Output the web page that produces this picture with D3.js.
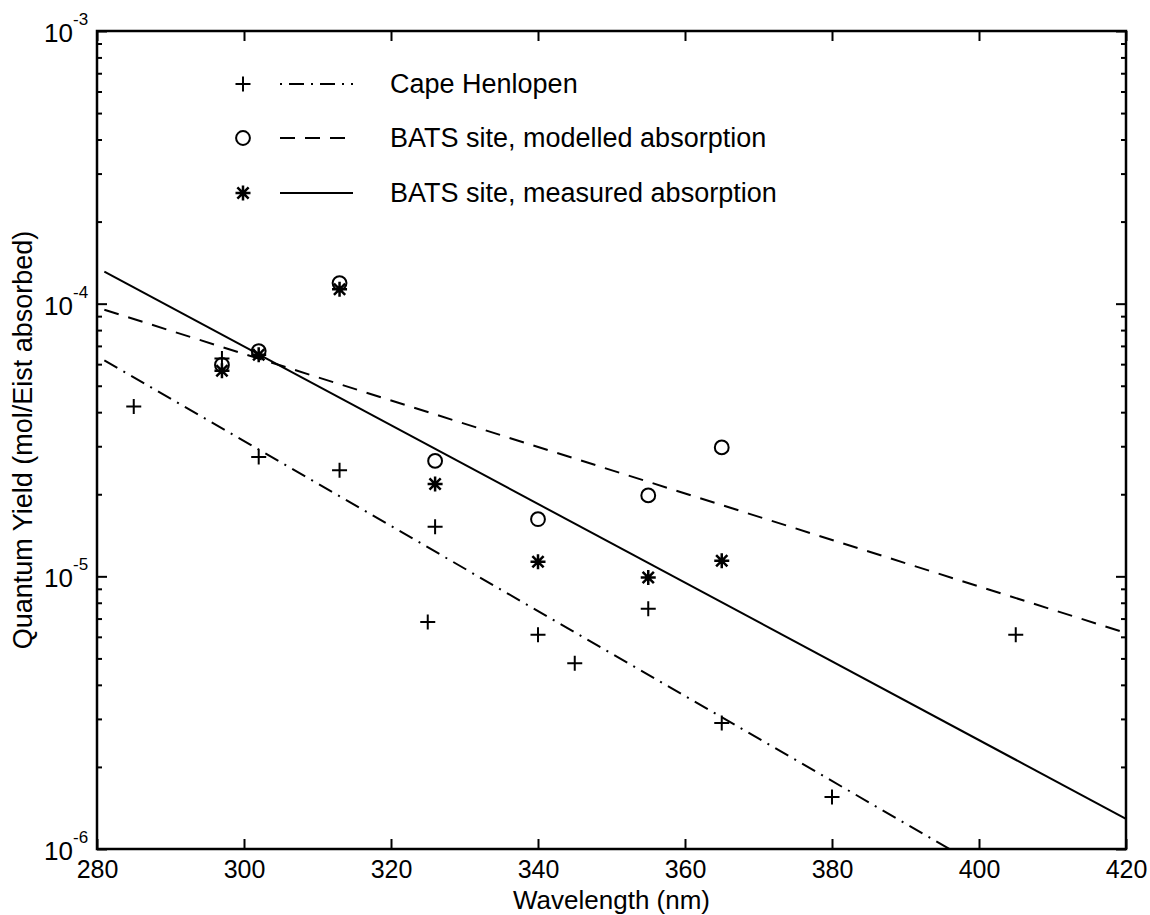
<!DOCTYPE html>
<html>
<head>
<meta charset="utf-8">
<script src="https://cdn.jsdelivr.net/npm/d3@7"></script>
<style>
  body { margin: 0; background: #fff; }
  svg text { font-family: "Liberation Sans", Arial, Helvetica, sans-serif; fill: #000; }
</style>
</head>
<body>
<div id="chart"></div>
<script>
const W = 1150, H = 915;
const margin = {top: 31, right: 24, bottom: 66, left: 97};

// axis ticks
const xTicks = [280, 300, 320, 340, 360, 380, 400, 420];
const yExponents = [-6, -5, -4, -3];

// Cape Henlopen (+)
const capeX = [285, 297, 302, 313, 325, 326, 340, 345, 355, 365, 380, 405];
const capeY = [4.2e-5, 6.3e-5, 2.74e-5, 2.45e-5, 6.8e-6, 1.52e-5, 6.1e-6, 4.8e-6, 7.6e-6, 2.9e-6, 1.55e-6, 6.1e-6];

// BATS site, modelled absorption (o)
const modX = [297, 302, 313, 326, 340, 355, 365];
const modY = [5.96e-5, 6.7e-5, 1.19e-4, 2.65e-5, 1.62e-5, 1.98e-5, 2.97e-5];

// BATS site, measured absorption (*)
const measX = [297, 302, 313, 326, 340, 355, 365];
const measY = [5.68e-5, 6.49e-5, 1.13e-4, 2.18e-5, 1.13e-5, 9.9e-6, 1.14e-5];

// fitted lines (end points)
const capeFitX = [281, 396];
const capeFitY = [6.2e-5, 1.0e-6];
const modFitX = [281, 420];
const modFitY = [9.5e-5, 6.2e-6];
const measFitX = [281, 420];
const measFitY = [1.31e-4, 1.29e-6];

const legendLabels = ["Cape Henlopen", "BATS site, modelled absorption", "BATS site, measured absorption"];

const svg = d3.select("#chart").append("svg")
    .attr("width", W)
    .attr("height", H);

const x = d3.scaleLinear().domain([280, 420]).range([margin.left, W - margin.right]);
const y = d3.scaleLog().domain([1e-6, 1e-3]).range([H - margin.bottom, margin.top]);

// custom marker shapes (stroked, MATLAB style)
const plusSym = {
    draw(ctx, size) {
        const r = Math.sqrt(size) / 2;
        ctx.moveTo(-r, 0); ctx.lineTo(r, 0);
        ctx.moveTo(0, -r); ctx.lineTo(0, r);
    }
};
const starSym = {
    draw(ctx, size) {
        const r = Math.sqrt(size) / 2, d = r * 0.75;
        ctx.moveTo(-r, 0); ctx.lineTo(r, 0);
        ctx.moveTo(0, -r); ctx.lineTo(0, r);
        ctx.moveTo(-d, -d); ctx.lineTo(d, d);
        ctx.moveTo(-d, d); ctx.lineTo(d, -d);
    }
};
const plus = d3.symbol().type(plusSym).size(225);
const star = d3.symbol().type(starSym).size(225);
const circle = d3.symbol().type(d3.symbolCircle).size(150);

// minor log ticks
const minorTicks = [];
yExponents.slice(0, -1).forEach(e => {
    for (let k = 2; k <= 9; k++) minorTicks.push(k * Math.pow(10, e));
});
const majorTicks = yExponents.map(e => Math.pow(10, e));

const axes = svg.append("g");
function styleAxis(g) {
    g.select(".domain").remove();
    g.selectAll("line").attr("stroke", "#000").attr("stroke-width", 2);
}

axes.append("g")
    .attr("transform", `translate(0,${H - margin.bottom})`)
    .call(d3.axisBottom(x).tickValues(xTicks).tickSizeInner(-10).tickSizeOuter(0)
        .tickPadding(11).tickFormat(d3.format("d")))
    .call(styleAxis)
    .call(g => g.selectAll("text").attr("font-size", 25).attr("fill", "#000"));

axes.append("g")
    .attr("transform", `translate(0,${margin.top})`)
    .call(d3.axisTop(x).tickValues(xTicks).tickSizeInner(-10).tickSizeOuter(0).tickFormat(""))
    .call(styleAxis);

[[d3.axisLeft, margin.left], [d3.axisRight, W - margin.right]].forEach(([ax, pos]) => {
    axes.append("g")
        .attr("transform", `translate(${pos},0)`)
        .call(ax(y).tickValues(majorTicks).tickSizeInner(-10).tickSizeOuter(0).tickFormat(""))
        .call(styleAxis);
    axes.append("g")
        .attr("transform", `translate(${pos},0)`)
        .call(ax(y).tickValues(minorTicks).tickSizeInner(-5).tickSizeOuter(0).tickFormat(""))
        .call(styleAxis);
});

// y tick labels 10^n
svg.append("g").selectAll("text")
    .data(yExponents)
    .join("text")
    .attr("x", 73)
    .attr("y", d => y(Math.pow(10, d)) + 11)
    .attr("text-anchor", "end")
    .attr("font-size", 26)
    .text("10");
svg.append("g").selectAll("text")
    .data(yExponents)
    .join("text")
    .attr("x", 73)
    .attr("y", d => y(Math.pow(10, d)) - 6)
    .attr("font-size", 17)
    .text(d => d);

// box
svg.append("rect")
    .attr("x", margin.left)
    .attr("y", margin.top)
    .attr("width", W - margin.right - margin.left)
    .attr("height", H - margin.bottom - margin.top)
    .attr("fill", "none")
    .attr("stroke", "#000")
    .attr("stroke-width", 2.5);

// axis titles
svg.append("text")
    .attr("x", (margin.left + W - margin.right) / 2)
    .attr("y", 909)
    .attr("text-anchor", "middle")
    .attr("font-size", 26)
    .text("Wavelength (nm)");

svg.append("text")
    .attr("transform", `translate(32,${(margin.top + H - margin.bottom) / 2}) rotate(-90)`)
    .attr("text-anchor", "middle")
    .attr("font-size", 27)
    .text("Quantum Yield (mol/Eist absorbed)");

// fitted lines
const line = d3.line().x(d => x(d[0])).y(d => y(d[1]));
const fits = [
    {xs: capeFitX, ys: capeFitY, dash: "15,7,2,7"},
    {xs: modFitX, ys: modFitY, dash: "15,10"},
    {xs: measFitX, ys: measFitY, dash: null}
];
const plot = svg.append("g");
fits.forEach(f => {
    plot.append("path")
        .attr("d", line(d3.zip(f.xs, f.ys)))
        .attr("fill", "none")
        .attr("stroke", "#000")
        .attr("stroke-width", 2)
        .attr("stroke-dasharray", f.dash);
});

// markers
const series = [
    {xs: capeX, ys: capeY, sym: plus, sw: 2},
    {xs: modX, ys: modY, sym: circle, sw: 2},
    {xs: measX, ys: measY, sym: star, sw: 2.5}
];
series.forEach(s => {
    plot.append("g").selectAll("path")
        .data(d3.zip(s.xs, s.ys))
        .join("path")
        .attr("transform", d => `translate(${x(d[0])},${y(d[1])})`)
        .attr("d", s.sym)
        .attr("fill", "none")
        .attr("stroke", "#000")
        .attr("stroke-width", s.sw);
});

// legend
const legY = [84, 138, 193];
const leg = svg.append("g");
legendLabels.forEach((lab, i) => {
    leg.append("path")
        .attr("transform", `translate(243,${legY[i]})`)
        .attr("d", series[i].sym)
        .attr("fill", "none")
        .attr("stroke", "#000")
        .attr("stroke-width", series[i].sw);
    leg.append("line")
        .attr("x1", 280).attr("x2", 353)
        .attr("y1", legY[i]).attr("y2", legY[i])
        .attr("stroke", "#000")
        .attr("stroke-width", 2)
        .attr("stroke-dasharray", i === 0 ? "2,7,15,7" : fits[i].dash);
    leg.append("text")
        .attr("x", 390)
        .attr("y", legY[i] + 9)
        .attr("font-size", 27)
        .text(lab);
});
</script>
</body>
</html>
